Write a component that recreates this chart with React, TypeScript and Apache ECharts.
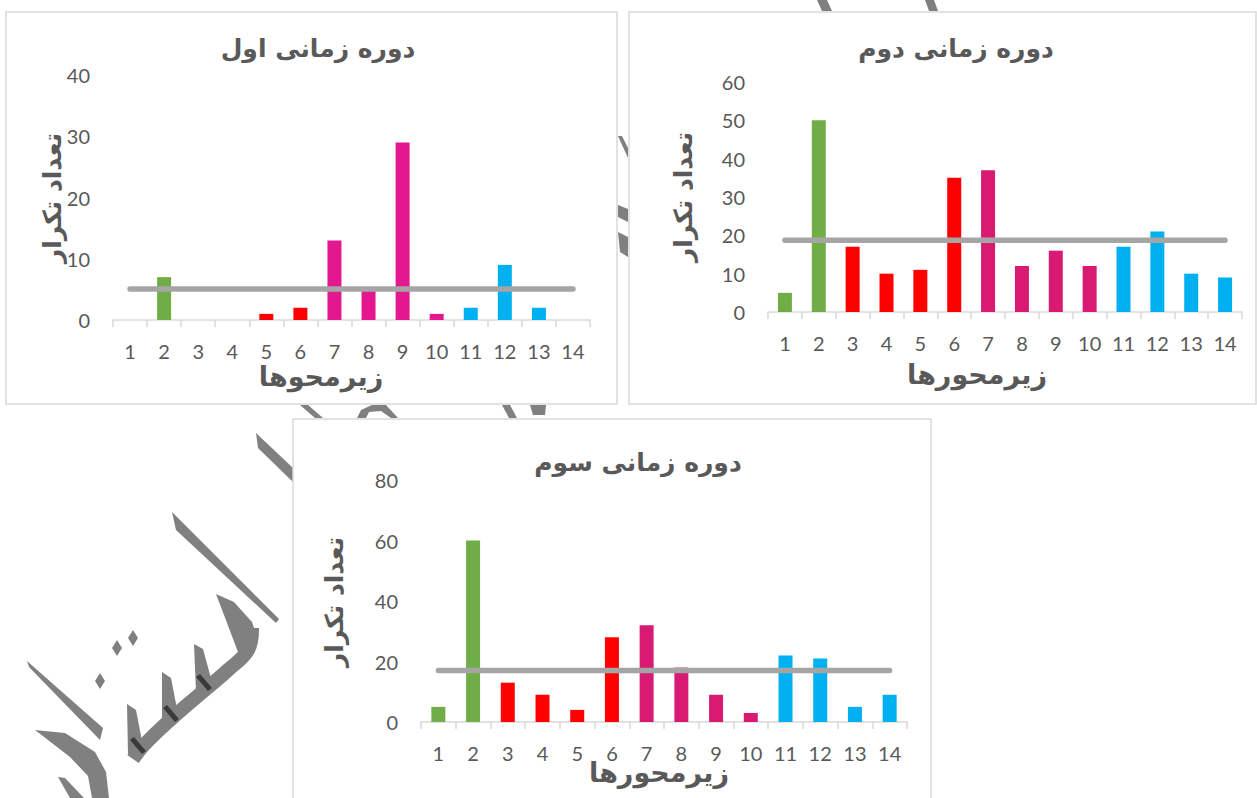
import React, { useEffect, useRef } from "react";
import * as echarts from "echarts";

// ---- data ----
const categories = ["1", "2", "3", "4", "5", "6", "7", "8", "9", "10", "11", "12", "13", "14"];
const period1 = [0, 7, 0, 0, 1, 2, 13, 5, 29, 1, 2, 9, 2, 0];
const period2 = [5, 50, 17, 10, 11, 35, 37, 12, 16, 12, 17, 21, 10, 9];
const period3 = [5, 60, 13, 9, 4, 28, 32, 18, 9, 3, 22, 21, 5, 9];
const average1 = 5.07;
const average2 = 18.7;
const average3 = 17.0;
const groupOfCategory = [0, 0, 1, 1, 1, 1, 2, 2, 2, 2, 3, 3, 3, 3];
const titles = ["دوره زمانی اول", "دوره زمانی دوم", "دوره زمانی سوم"];
const xTitles = ["زیرمحوها", "زیرمحورها", "زیرمحورها"];
const yTitle = "تعداد تکرار";
const yMax = [40, 60, 80];
const yStep = [10, 10, 20];

const palettes = [
  ["#70AD47", "#FF0000", "#E3188F", "#00B0F0"],
  ["#70AD47", "#FF0000", "#D81A73", "#00B0F0"],
  ["#70AD47", "#FF0000", "#D81A73", "#00B0F0"],
];

const GRAY = "#595959";
const AXIS = "#D9D9D9";
const WM = "#808080";
const PFONT = '"DejaVu Sans", sans-serif';

export default function App() {
  const ref = useRef<HTMLDivElement>(null);
  useEffect(() => {
    if (!ref.current) return;
    const chart = echarts.init(ref.current, undefined, { renderer: "svg" });
    const datasets = [period1, period2, period3];
    const avgs = [average1, average2, average3];
    const grids = [
      { left: 113, top: 75, width: 477, height: 245 },
      { left: 768, top: 82, width: 474, height: 230 },
      { left: 421, top: 480, width: 486, height: 242 },
    ];
    const xAxis = grids.map((_, i) => ({
      type: "category",
      gridIndex: i,
      data: categories,
      z: 5,
      axisLine: { lineStyle: { color: AXIS, width: 1.5 } },
      axisTick: { show: true, length: 7, alignWithLabel: false, lineStyle: { color: AXIS, width: 1.5 } },
      axisLabel: { color: GRAY, fontSize: 20, fontFamily: "Lato", margin: 21, interval: 0 },
    }));
    const yAxis = grids.map((_, i) => ({
      type: "value",
      gridIndex: i,
      min: 0,
      max: yMax[i],
      interval: yStep[i],
      z: 5,
      splitLine: { show: false },
      axisLine: { show: false },
      axisTick: { show: false },
      axisLabel: { color: GRAY, fontSize: 20, fontFamily: "Lato", margin: 23 },
    }));
    const series: any[] = [];
    datasets.forEach((d, i) => {
      series.push({
        type: "bar",
        xAxisIndex: i,
        yAxisIndex: i,
        barWidth: 14,
        z: 6,
        data: d.map((v, k) => ({ value: v, itemStyle: { color: palettes[i][groupOfCategory[k]] } })),
      });
      series.push({
        type: "line",
        xAxisIndex: i,
        yAxisIndex: i,
        z: 7,
        symbol: "none",
        lineStyle: { color: "#A5A5A5", width: 5.5, cap: "round" },
        data: categories.map(() => avgs[i]),
      });
    });

    const poly = (pts: number[][], fill = WM) => ({
      type: "polygon",
      z: 0,
      shape: { points: pts },
      style: { fill },
    });
    const watermark = [
      poly([[256, 433], [258, 448], [293, 482], [293, 468]]),
      poly([[172, 512], [176, 530], [276, 623], [279, 619]]),
      // teeth
      poly([[216, 594], [234, 602], [252, 622], [258, 640], [238, 652]]),
      poly([[194, 644], [203, 649], [212, 682], [196, 692]]),
      poly([[162, 672], [171, 678], [178, 714], [162, 722]]),
      poly([[127, 704], [136, 710], [143, 746], [128, 754]]),
      {
        type: "polyline",
        z: 0,
        shape: {
          points: [[252, 628], [248, 650], [228, 670], [200, 694], [170, 720], [145, 744], [133, 759]],
          smooth: 0.4,
        },
        style: { stroke: WM, lineWidth: 14, fill: null },
      },
      poly([[196, 677], [200, 674], [212, 688], [208, 691]], "#3a3a3a"),
      poly([[163, 708], [167, 705], [179, 719], [175, 722]], "#3a3a3a"),
      poly([[130, 740], [134, 737], [146, 751], [142, 754]], "#3a3a3a"),
      // dots
      poly([[133, 630], [138, 638], [133, 646], [128, 638]]),
      poly([[117, 640], [122, 648], [117, 656], [112, 648]]),
      poly([[100, 673], [105, 681], [100, 689], [95, 681]]),
      // left long stroke
      poly([[27, 661], [29, 667], [100, 740], [103, 728]]),
      // dal
      poly([[35, 730], [65, 733], [95, 752], [106, 772], [109, 798], [92, 798], [88, 776], [70, 757]]),
      poly([[58, 777], [65, 778], [84, 798], [70, 798]]),
      // pieces visible in the gaps between panels
      poly([[300, 405], [308, 405], [323, 418], [315, 418]]),
      poly([[357, 418], [361, 410], [372, 405], [386, 405], [398, 418], [391, 418], [381, 411], [369, 412], [366, 418]]),
      poly([[502, 405], [510, 405], [517, 418], [509, 418]]),
      poly([[530, 405], [546, 405], [545, 415], [533, 415]]),
      poly([[618, 136], [622, 136], [628, 148], [628, 158]]),
      poly([[618, 205], [628, 209], [628, 222], [618, 217]]),
      poly([[618, 232], [628, 237], [628, 257], [620, 252]]),
      poly([[817, 0], [827, 0], [832, 11], [822, 11]]),
      poly([[925, 0], [934, 0], [938, 11], [929, 11]]),
    ];
    const panel = (x: number, y: number, w: number, h: number) => ({
      type: "rect",
      z: 1,
      shape: { x, y, width: w, height: h },
      style: { fill: "#ffffff", stroke: AXIS, lineWidth: 1.5 },
    });
    const txt = (text: string, x: number, y: number, size: number, rot = 0) => ({
      type: "text",
      z: 10,
      x,
      y,
      rotation: rot,
      style: {
        text,
        fill: GRAY,
        font: `bold ${size}px ${PFONT}`,
        align: "center",
        verticalAlign: "middle",
      },
    });
    const graphic = [
      ...watermark,
      panel(6, 12, 611, 392),
      panel(629, 12, 627, 392),
      panel(293, 419, 638, 420),
      txt(titles[0], 318, 48, 25),
      txt(titles[1], 956, 48, 25),
      txt(titles[2], 638, 462, 25),
      txt(xTitles[0], 321, 376, 27),
      txt(xTitles[1], 977, 374, 27),
      txt(xTitles[2], 659, 772, 27),
      txt(yTitle, 52, 198, 25, Math.PI / 2),
      txt(yTitle, 683, 197, 25, Math.PI / 2),
      txt(yTitle, 334, 602, 25, Math.PI / 2),
    ];

    chart.setOption({
      animation: false,
      backgroundColor: "#ffffff",
      grid: grids,
      xAxis,
      yAxis,
      series,
      graphic,
    });
    return () => chart.dispose();
  }, []);
  return (
    <div
      ref={ref}
      style={{ position: "absolute", left: 0, top: 0, width: 1257, height: 798 }}
    />
  );
}
